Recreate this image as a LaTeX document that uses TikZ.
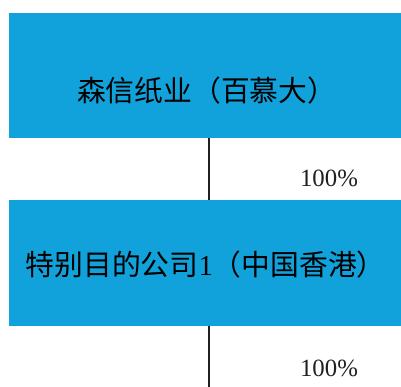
\documentclass[tikz,border=0pt]{standalone}
\usepackage{fontspec}
\setmainfont{Liberation Serif}
\newfontfamily\cjk{Noto Sans CJK SC}
\definecolor{boxblue}{RGB}{18,162,219}
\definecolor{linedark}{RGB}{35,31,32}
\begin{document}
\begin{tikzpicture}[x=1pt,y=1pt,
  entity/.style={fill=boxblue,draw=none,inner sep=0pt,minimum width=392pt,minimum height=125pt,anchor=north west},
  entitytext/.style={inner sep=0pt,font=\fontsize{28.8}{33}\selectfont},
  link/.style={draw=linedark,line width=1.8pt},
  pct/.style={font=\fontsize{24.8}{28}\selectfont,text=linedark,inner sep=0pt}]
\useasboundingbox (0,0) rectangle (401,387);
\node[entity] (a) at (9,374) {};
\node[entitytext] (at) at ([xshift=1.5pt,yshift=-15pt]a.center) {\cjk 森信纸业（百慕大）};
\node[entity,minimum height=125.5pt] (b) at (9,187) {};
\node[entitytext] (bt) at ([xshift=0.5pt,yshift=-1.5pt]b.center) {\cjk 特别目的公司{\rmfamily 1}（中国香港）};
\coordinate (c) at (209,0);
\draw[link] (a.south -| c) -- (b.north -| c);
\draw[link] (b.south -| c) -- (c);
\node[pct] (p1) at (329,208.5) {100\%};
\node[pct] (p2) at (329,18.5) {100\%};
\end{tikzpicture}
\end{document}
